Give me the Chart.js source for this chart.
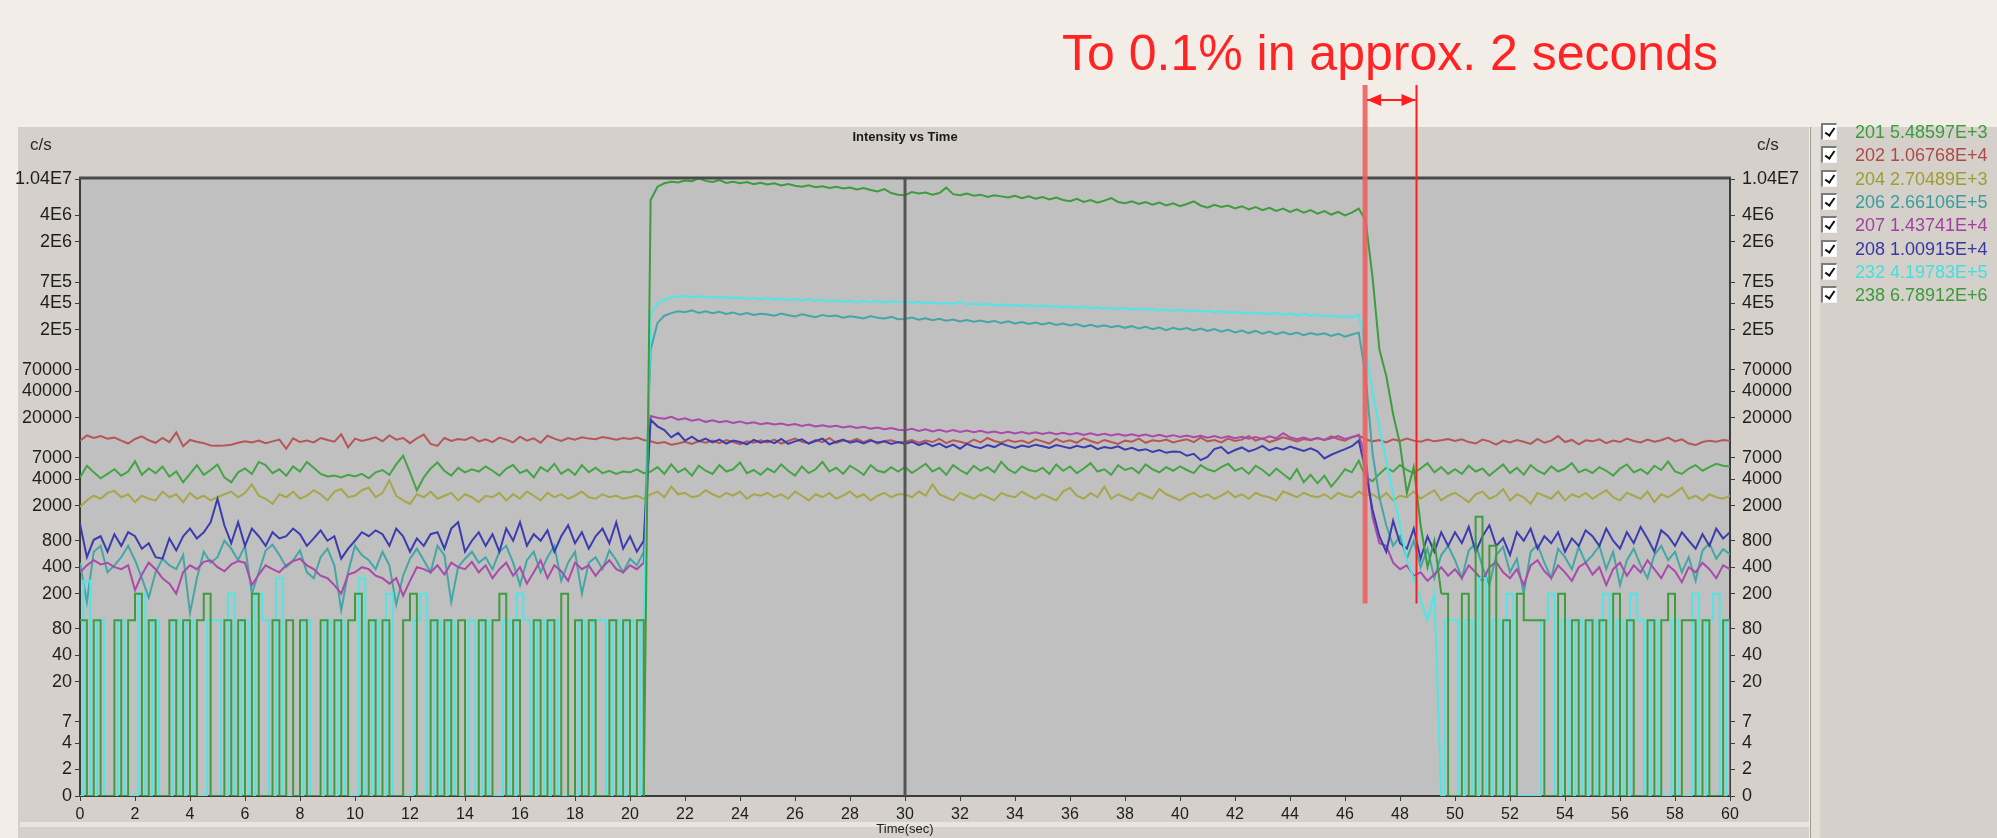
<!DOCTYPE html>
<html>
<head>
<meta charset="utf-8">
<title>Intensity vs Time</title>
<script src="https://cdn.jsdelivr.net/npm/chart.js@4.4.0/dist/chart.umd.min.js"></script>
<style>
  html, body { margin: 0; padding: 0; }
  body {
    width: 1997px; height: 838px; position: relative; overflow: hidden;
    background: #f3ede8; font-family: 'Liberation Sans', Arial, sans-serif;
  }
  #panel-grafico { position: absolute; left: 18px; top: 127px; width: 1791px; height: 711px; background: #d5d1ca; }
  #franja { position: absolute; left: 20px; top: 822px; width: 1789px; height: 5px; background: #e8e5df; }
  #panel-leyenda { position: absolute; left: 1810px; top: 127px; width: 187px; height: 711px; background: #d5d1ca;
    border-left: 1px solid #9d998f; }
  #tira-leyenda { position: absolute; left: 1811px; top: 127px; width: 9px; height: 711px; background: #e2dfd9; }
  #lienzo { position: absolute; left: 0; top: 0; }
  .unidad { position: absolute; top: 136px; font-size: 17px; color: #2a2a2a; line-height: 18px; }
  #nota { position: absolute; left: 1062px; top: 28px; font-size: 50px; line-height: 50px; color: #ff2424; white-space: nowrap; }
  #leyenda { position: absolute; left: 0; top: 0; }
  .fila { position: absolute; left: 1821px; height: 20px; line-height: 20px; white-space: nowrap; }
  .casilla { position: absolute; left: 0; top: 1px; width: 13px; height: 14px; background: #fff;
    border-top: 2px solid #7b7b7b; border-left: 2px solid #7b7b7b; border-bottom: 1px solid #f4f4f4; border-right: 1px solid #f4f4f4; }
  .casilla::after { content: ''; position: absolute; left: 4px; top: 1px; width: 4px; height: 8px;
    border-right: 2px solid #111; border-bottom: 2px solid #111; transform: rotate(35deg); }
  .txt { position: absolute; left: 34px; top: 0; font-size: 18px; }
</style>
</head>
<body>
<div id="panel-grafico"></div>
<div id="franja"></div>
<div id="panel-leyenda"></div>
<div id="tira-leyenda"></div>
<canvas id="lienzo" width="1997" height="838"></canvas>
<div class="unidad" style="left:30px">c/s</div>
<div class="unidad" style="left:1757px">c/s</div>
<div id="nota">To 0.1% in approx. 2 seconds</div>
<div id="leyenda"></div>
<script>
// Intensidad vs tiempo: lavado del nebulizador (escala logarítmica, c/s)
// Muestras cada 0,25 s de 0 a 60 s; cada fila = 5 s (20 muestras)
const PASO_S = 0.25;
const TIEMPO_CURSOR = 30;
const INICIO_LAVADO = 46.73;
const FIN_LAVADO = 48.6;
const NIVEL_PIE_MARCAS = 155;
// tramo con señal de muestra (línea continua para 232 y 238; fuera de él, escalones de cuentas)
const TRAMO_SENAL = [20.5, 49.5];

const etiquetasMasa = ['201', '202', '204', '206', '207', '208', '232', '238'];
const valoresCursor = ['5.48597E+3', '1.06768E+4', '2.70489E+3', '2.66106E+5', '1.43741E+4', '1.00915E+4', '4.19783E+5', '6.78912E+6'];

const valoresTicksY = [1, 2, 4, 7, 20, 40, 80, 200, 400, 800, 2000, 4000, 7000, 20000, 40000, 70000, 2e5, 4e5, 7e5, 2e6, 4e6, 1.04e7];
const etiquetasTicksY = ['0', '2', '4', '7', '20', '40', '80', '200', '400', '800', '2000', '4000', '7000', '20000', '40000', '70000', '2E5', '4E5', '7E5', '2E6', '4E6', '1.04E7'];

const intensidad201 = [
  4200, 5700, 4800, 4100, 4600, 5200, 4400, 4900, 6400, 4500, 5300, 4700, 5600, 4300, 4900, 3700, 4600, 5800, 4500, 5100,
  5900, 4200, 3700, 4800, 5300, 4600, 6300, 5800, 4700, 5200, 4400, 5600, 4900, 6300, 5400, 4600, 4300, 4400, 4200, 4500,
  4300, 4600, 4100, 4800, 5100, 4500, 5900, 7400, 4800, 3000, 4200, 5300, 6200, 5000, 4400, 5400, 4800, 5200, 4900, 5600,
  5000, 4400, 5300, 5800, 4700, 5100, 4200, 5500, 4900, 6000, 4600, 5200, 4500, 5800, 4800, 5400, 4700, 5000, 4600, 4900,
  4800, 5200, 4700, 4900, 5500, 4600, 5900, 4800, 5300, 4400, 5700, 5000, 4600, 5800, 4900, 5200, 6200, 4700, 5100, 4500,
  5300, 4800, 5900, 5000, 4400, 5600, 4700, 5200, 6300, 4900, 5400, 4600, 5700, 5100, 4500, 5800, 5000, 4800, 5500, 4900,
  5500, 4700, 5300, 6000, 4900, 5400, 4500, 5800, 5100, 4600, 5700, 5000, 5500, 4800, 6300, 5200, 4700, 5600, 5100, 4900,
  5400, 4600, 5900, 5000, 5600, 4700, 5300, 6100, 4900, 5200, 4500, 5800, 5100, 5400, 4700, 5900, 5200, 4800, 5500, 5000,
  5600, 5100, 4700, 5800, 5200, 4900, 5500, 6000, 5000, 5400, 4600, 5700, 5100, 4400, 5300, 4600, 4000, 5200, 3700, 4500,
  3600, 4400, 3300, 4100, 5200, 4800, 6500, 4200, 3800, 4600, 5400, 4900, 5800, 5100, 4700, 5300, 6100, 4800, 5500, 4600,
  5200, 4600, 5700, 4900, 5300, 4400, 5100, 5900, 4700, 5400, 4500, 5800, 5000, 4600, 5600, 4900, 5300, 6100, 4800, 5200,
  4700, 5500, 5000, 4400, 5300, 5900, 4800, 5200, 4600, 5700, 5100, 6400, 4900, 4600, 5300, 5800, 5000, 5500, 6000, 5700,
  5600
];

const intensidad202 = [
  11000, 12600, 11800, 12400, 11600, 11900, 11000, 10200, 11500, 12300, 11100, 10400, 11800, 10600, 13600, 9500, 11200, 10700, 10300, 9700,
  9600, 9700, 9900, 10400, 10800, 10500, 11000, 10300, 10800, 11300, 8900, 11700, 10600, 11000, 10500, 11800, 11200, 10700, 13000, 9200,
  11600, 10900, 11400, 12000, 10800, 12600, 11300, 11800, 10300, 11700, 12900, 10100, 9600, 11800, 10900, 11500, 11200, 12100, 10800, 11400,
  10600, 11900, 11300, 10500, 12200, 11000, 11700, 10400, 12500, 11600, 10900, 11800, 11300, 12000, 11600, 11400, 12100, 11700, 11300, 11800,
  11500, 11900, 11200, 10800, 10300, 10600, 9900, 10200, 10700, 10100, 10900, 10400, 11000, 10300, 11200, 10600, 10000, 10800, 10400, 11100,
  10500, 11300, 10200, 10900, 11600, 10700, 10300, 11200, 10600, 11800, 10400, 11000, 10800, 11500, 10600, 11300, 10200, 10900, 11100, 10500,
  10700, 11200, 10400, 11000, 10600, 11500, 10300, 11100, 10700, 10200, 11300, 10500, 11800, 10900, 10400, 11200, 10600, 11000, 10300, 11400,
  10800, 10200, 11500, 10600, 11100, 10400, 11700, 10900, 10300, 11200, 10600, 10100, 11000, 10700, 11600, 10400, 11100, 10800, 11300, 10500,
  11000, 11400, 10600, 11900, 10800, 11200, 10500, 11600, 10900, 11300, 12400, 11000, 11700, 10600, 11200, 12000, 11400, 10800, 11500, 11100,
  11800, 11200, 12300, 11500, 11000, 12100, 12600, 11400, 10800, 11200, 10500, 11400, 10900, 11600, 11000, 10700, 11300, 10800, 11100, 11500,
  10900, 11400, 10600, 10200, 11300, 10800, 9900, 11000, 10500, 11200, 10700, 10100, 11500, 10400, 11000, 12400, 10600, 11200, 10000, 11100,
  10800, 11400, 10300, 11000, 10600, 11600, 10900, 10500, 11300, 10700, 11100, 11900, 10800, 11400, 10200, 9800, 10600, 11000, 10700, 11200,
  11000
];

const intensidad204 = [
  1950, 2300, 2600, 2400, 2800, 2950, 2500, 2700, 2200, 2600, 2400, 2300, 2900, 2500, 2700, 2200, 2800, 2400, 2600, 2300,
  2500, 2700, 2900, 2500, 2800, 3500, 2600, 2400, 2100, 2700, 2500, 2900, 2400, 2600, 3000, 2700, 2300, 2900, 3100, 2500,
  2600, 3000, 3200, 2500, 2800, 3900, 2600, 2300, 2100, 2700, 2500, 2900, 2400, 2600, 2800, 2300, 2700, 2500, 2200, 2600,
  2500, 2800, 2300, 2700, 2400, 2900, 2600, 2300, 2800, 2500, 2700, 2400, 2600, 2900, 2500, 2400, 2700, 2500, 2600, 2400,
  2500, 2600, 2400, 2700, 2900, 2500, 3300, 2700, 2800, 2500, 2600, 3000, 2700, 2500, 2800, 2600, 2900, 2400, 2700, 2600,
  2800, 2500, 2700, 2400, 2900, 2600, 2300, 2700, 2500, 2800, 2400, 2600, 2900, 2500, 2700, 2300, 2600, 2800, 2500, 2700,
  2700, 2500, 2900, 2600, 3500, 2700, 2500, 2300, 2800, 2600, 2400, 2700, 2500, 2300, 2800, 2600, 2500, 2900, 2600, 2400,
  2700, 2500, 2300, 2900, 3200, 2600, 2400, 2800, 2500, 3300, 2400, 2700, 2500, 2300, 2800, 2600, 2400, 3100, 2700, 2500,
  2300, 2600, 2800, 2500, 2700, 2400, 2600, 2900, 2500, 2700, 2400, 2800, 2600, 2500, 2300, 2900, 2700, 2500, 2800, 2600,
  2500, 2700, 2400, 2800, 2600, 2500, 2900, 2600, 2700, 2400, 2800, 2300, 2600, 2500, 2900, 2400, 2700, 3000, 2300, 2600,
  2800, 2500, 2200, 2700, 2900, 2400, 2600, 3100, 2300, 2700, 2500, 2100, 2800, 2600, 2400, 2900, 2300, 2700, 2500, 2800,
  2400, 2700, 3000, 2500, 2300, 2800, 2600, 2400, 2900, 2200, 2700, 2500, 2800, 3200, 2400, 2600, 2300, 2700, 2500, 2400,
  2600
];

const intensidad206 = [
  450, 160, 600, 700, 350, 420, 520, 700, 480, 300, 180, 350, 500, 420, 380, 550, 120, 300, 600, 450,
  520, 800, 650, 480, 700, 200, 350, 620, 720, 550, 400, 480, 620, 350, 300, 520, 650, 420, 130, 350,
  700, 550, 480, 380, 600, 420, 150, 320, 500, 650, 480, 350, 700, 550, 160, 400, 500, 600, 450, 520,
  380, 600, 700, 450, 250, 480, 600, 350, 520, 700, 280, 450, 600, 200, 450, 520, 380, 620, 480, 350,
  500, 420, 600, 120000, 240000, 290000, 310000, 325000, 318000, 334000, 312000, 326000, 309000, 321000, 303000, 316000, 298000, 311000, 295000, 305000,
  300000, 290000, 306000, 294000, 285000, 301000, 290000, 279000, 296000, 285000, 291000, 275000, 286000, 279000, 270000, 287000, 274000, 270000, 281000, 264000,
  266000, 276000, 261000, 271000, 257000, 268000, 254000, 263000, 250000, 259000, 247000, 256000, 244000, 253000, 239000, 250000, 237000, 246000, 234000, 243000,
  231000, 241000, 227000, 236000, 224000, 233000, 219000, 229000, 217000, 226000, 214000, 223000, 211000, 221000, 207000, 217000, 204000, 213000, 199000, 211000,
  202000, 210000, 197000, 207000, 194000, 204000, 191000, 201000, 187000, 197000, 184000, 195000, 181000, 191000, 179000, 189000, 177000, 187000, 174000, 184000,
  176000, 183000, 171000, 181000, 167000, 177000, 186000, 60000, 8000, 2500, 1200, 700, 900, 500, 800, 400, 650, 300, 550, 700,
  480, 300, 620, 750, 400, 250, 550, 680, 350, 500, 200, 600, 720, 450, 300, 650, 520, 380, 680, 450,
  550, 700, 380, 600, 250, 480, 650, 420, 300, 550, 700, 480, 600, 350, 520, 280, 620, 750, 500, 640,
  560
];

const intensidad207 = [
  350, 420, 480, 430, 450, 400, 380, 420, 220, 330, 450, 380, 300, 260, 200, 350, 420, 380, 460, 480,
  400, 360, 430, 470, 450, 250, 330, 420, 380, 350, 420, 470, 500, 420, 380, 320, 300, 250, 200, 330,
  350, 400, 380, 320, 300, 260, 300, 190, 280, 400, 380, 350, 420, 330, 450, 400, 380, 460, 350, 420,
  300, 380, 450, 320, 400, 260, 350, 480, 300, 420, 360, 280, 450, 380, 420, 320, 400, 480, 380, 350,
  420, 380, 450, 21000, 20000, 19500, 20500, 19000, 19800, 18500, 19200, 18000, 18800, 17800, 18400, 17500, 18200, 17200, 17800, 16900,
  17500, 16800, 17200, 16500, 17000, 16200, 16800, 15900, 16500, 15800, 16200, 15500, 16000, 15300, 15800, 15000, 15500, 14800, 15300, 14600,
  14400, 15000, 14200, 14800, 14000, 14600, 13900, 14500, 13800, 14300, 13700, 14200, 13500, 14000, 13400, 13900, 13300, 13800, 13200, 13700,
  13100, 13600, 13000, 13500, 12900, 13400, 12800, 13300, 12700, 13200, 12600, 13100, 12500, 13000, 12400, 12900, 12300, 12800, 12200, 12700,
  12100, 12600, 12000, 12500, 11900, 12400, 11800, 12300, 11700, 12200, 11600, 12100, 11500, 12300, 11700, 13400, 12000, 11400, 11900, 11300,
  11800, 11200, 11700, 12400, 11500, 12000, 12800, 7000, 1500, 750, 700, 450, 380, 420, 320, 350, 280, 330, 400, 320,
  380, 300, 420, 350, 280, 400, 460, 350, 300, 380, 250, 420, 480, 360, 300, 420, 350, 280, 400, 450,
  330, 400, 250, 380, 450, 320, 420, 350, 480, 380, 300, 420, 360, 270, 400, 350, 450, 380, 300, 420,
  380
];

const intensidad208 = [
  1250, 520, 820, 900, 600, 950, 700, 1000, 900, 650, 750, 520, 500, 850, 620, 900, 1100, 850, 1000, 1300,
  2400, 1200, 750, 1300, 700, 1100, 900, 700, 1000, 850, 900, 1100, 950, 700, 850, 1050, 800, 900, 500, 650,
  800, 1000, 900, 1050, 950, 700, 1100, 900, 600, 850, 700, 950, 1000, 650, 1100, 1300, 600, 800, 1000, 700,
  950, 600, 1100, 800, 1300, 700, 950, 800, 1050, 600, 900, 1200, 750, 1000, 650, 900, 1100, 750, 1300, 650,
  900, 600, 800, 19000, 16000, 14500, 12000, 13500, 11000, 12200, 10800, 11600, 10500, 11300, 10200, 11000, 10600, 10000, 11200, 10400,
  11000, 10300, 11500, 10100, 10800, 11400, 10200, 10900, 11600, 10000, 10700, 11300, 10400, 10900, 10200, 11000, 10500, 10800, 10100, 10600,
  10100, 10700, 9800, 10400, 9500, 10200, 9200, 9900, 8900, 10100, 9400, 9000, 9800, 9300, 10200, 9600, 9100, 9700, 9300, 9900,
  9500, 9100, 9800, 9400, 9000, 9600, 9200, 9700, 8800, 9300, 9000, 9500, 8700, 9100, 8500, 8800, 8200, 8600, 8000, 8300,
  8200, 7400, 7800, 6600, 7200, 8800, 9300, 7900, 8600, 9200, 8300, 8800, 9600, 8500, 9100, 8700, 9400, 8900, 8400, 9000,
  8300, 6900, 7600, 8200, 8800, 9500, 11000, 5000, 1800, 900, 600, 1350, 750, 650, 1100, 500, 900, 600, 1000, 700,
  1000, 750, 1150, 600, 900, 1200, 700, 850, 550, 1000, 800, 1100, 650, 900, 750, 1000, 600, 850, 700, 1050,
  900, 700, 1100, 800, 650, 1000, 750, 1150, 850, 600, 1050, 900, 700, 1000, 800, 650, 950, 700, 1100, 850,
  1000
];

const intensidad232 = [
  0, 280, 0, 100, 0, 0, 100, 0, 0, 200, 0, 100, 0, 0, 100, 0, 100, 0, 0, 100,
  100, 0, 200, 0, 100, 0, 200, 100, 0, 300, 0, 0, 0, 100, 0, 0, 100, 0, 100, 0,
  0, 300, 0, 100, 0, 200, 0, 0, 0, 100, 200, 0, 100, 0, 100, 0, 0, 100, 0, 100,
  0, 0, 100, 0, 200, 100, 0, 100, 0, 100, 0, 0, 0, 100, 0, 100, 100, 0, 100, 0,
  100, 0, 100, 300000, 400000, 440000, 470000, 480000, 490000, 470000, 485000, 465000, 480000, 460000, 475000, 455000, 470000, 450000, 465000, 445000,
  460000, 440000, 455000, 435000, 450000, 430000, 445000, 425000, 440000, 420000, 435000, 415000, 430000, 410000, 428000, 412000, 425000, 408000, 422000, 415000,
  420000, 405000, 418000, 400000, 412000, 396000, 408000, 392000, 420000, 388000, 400000, 384000, 396000, 380000, 392000, 376000, 388000, 372000, 384000, 368000,
  380000, 364000, 376000, 360000, 372000, 356000, 368000, 352000, 364000, 348000, 360000, 344000, 356000, 340000, 352000, 336000, 348000, 332000, 344000, 328000,
  340000, 324000, 336000, 320000, 332000, 316000, 328000, 312000, 324000, 308000, 320000, 304000, 316000, 300000, 312000, 296000, 308000, 292000, 304000, 288000,
  298000, 284000, 292000, 280000, 288000, 276000, 300000, 120000, 40000, 15500, 6500, 2750, 1200, 480, 300, 170, 100, 200, 0, 100,
  100, 0, 100, 0, 300, 0, 100, 0, 200, 0, 0, 0, 0, 100, 200, 0, 100, 0, 100, 0,
  100, 0, 200, 0, 100, 0, 200, 100, 0, 100, 0, 0, 100, 0, 0, 200, 0, 100, 200, 0,
  100
];

const intensidad238 = [
  100, 0, 100, 0, 0, 100, 0, 100, 200, 0, 100, 0, 0, 100, 0, 100, 0, 100, 200, 0,
  0, 100, 0, 100, 0, 200, 0, 0, 100, 0, 100, 0, 100, 0, 0, 100, 0, 100, 0, 100,
  200, 0, 100, 0, 100, 0, 0, 100, 200, 0, 0, 100, 0, 100, 0, 100, 0, 0, 100, 0,
  100, 200, 0, 100, 0, 0, 100, 0, 100, 0, 200, 0, 100, 0, 100, 0, 0, 100, 0, 100,
  0, 100, 0, 6000000, 8500000, 9300000, 9700000, 9500000, 10000000, 9800000, 10600000, 9900000, 9600000, 10100000, 9400000, 9700000, 9300000, 9600000, 9100000, 9400000,
  9000000, 9300000, 8800000, 9100000, 8700000, 8500000, 8800000, 8400000, 8600000, 8200000, 8500000, 8100000, 8300000, 7900000, 8200000, 7800000, 7500000, 8000000, 7200000, 6900000,
  6800000, 7400000, 7100000, 7300000, 6900000, 7200000, 8300000, 7000000, 6800000, 7100000, 6700000, 6900000, 6500000, 6800000, 6600000, 6400000, 6700000, 6300000, 6600000, 6200000,
  6500000, 6100000, 6400000, 6000000, 5800000, 6200000, 5700000, 6000000, 5600000, 5900000, 6300000, 5700000, 5500000, 5800000, 5400000, 5700000, 5300000, 5600000, 5200000, 5500000,
  5100000, 5400000, 5800000, 5200000, 4900000, 5300000, 5000000, 5200000, 4800000, 5100000, 4700000, 5000000, 4600000, 4900000, 4500000, 4800000, 4400000, 4700000, 4300000, 4600000,
  4200000, 4500000, 4100000, 4400000, 4000000, 4300000, 4800000, 3500000, 800000, 120000, 60000, 22000, 10000, 2800, 5500, 1200, 400, 800, 200, 0,
  0, 200, 0, 1500, 0, 700, 0, 100, 0, 200, 100, 100, 100, 0, 0, 200, 0, 100, 0, 100,
  0, 100, 0, 200, 0, 100, 0, 0, 100, 0, 100, 200, 0, 100, 100, 0, 100, 0, 0, 100,
  0
];

const datosSeries = [intensidad201, intensidad202, intensidad204, intensidad206, intensidad207, intensidad208, intensidad232, intensidad238];
const coloresSeries = ['#45a445', '#b65656', '#a6a64a', '#45a6a6', '#aa4aaa', '#3c3cae', '#4ee6e6', '#3e9c3e'];
const coloresLeyenda = ['#3a9c3a', '#b04848', '#9c9c34', '#3a9c9c', '#a040a0', '#3838a0', '#40e0e0', '#3a9a3a'];
// capa de dibujo (número menor = encima)
const capaSerie = [8, 7, 6, 5, 4, 3, 2, 1];
// series de cuentas bajas dibujadas en escalón fuera del tramo con señal
const modoEscalon = { '232': 'middle', '238': 'before' };

const familia = "'Liberation Sans', Arial, sans-serif";

// Leyenda con casillas (como en el software de origen)
const leyenda = document.getElementById('leyenda');
for (let i = 0; i < etiquetasMasa.length; i++) {
  const fila = document.createElement('div');
  fila.className = 'fila';
  fila.style.top = (122 + i * 23.3) + 'px';
  fila.innerHTML = `<span class="casilla"></span><span class="txt" style="color:${coloresLeyenda[i]}">${etiquetasMasa[i]} ${valoresCursor[i]}</span>`;
  leyenda.appendChild(fila);
}

// Fondo gris del área de trazado
const fondoArea = {
  id: 'fondoArea',
  beforeDraw(chart) {
    const { ctx, chartArea: a } = chart;
    ctx.save();
    ctx.fillStyle = '#c0c0c0';
    ctx.fillRect(a.left, a.top, a.right - a.left, a.bottom - a.top);
    ctx.restore();
  }
};

// Cursor vertical, marco superior y anotación en rojo
const marcas = {
  id: 'marcas',
  afterDraw(chart) {
    const { ctx, chartArea: a, scales } = chart;
    ctx.save();
    // cursor en t = 30 s
    const xc = scales.x.getPixelForValue(TIEMPO_CURSOR);
    ctx.strokeStyle = '#555555';
    ctx.lineWidth = 3;
    ctx.beginPath();
    ctx.moveTo(xc, a.top);
    ctx.lineTo(xc, a.bottom);
    ctx.stroke();

    // borde superior del área
    ctx.strokeStyle = '#4a4a4a';
    ctx.lineWidth = 3;
    ctx.beginPath();
    ctx.moveTo(a.left - 1, a.top - 1);
    ctx.lineTo(a.right + 1, a.top - 1);
    ctx.stroke();

    // líneas de lavado
    const x1 = scales.x.getPixelForValue(INICIO_LAVADO);
    const x2 = scales.x.getPixelForValue(FIN_LAVADO);
    const yPie = scales.y.getPixelForValue(NIVEL_PIE_MARCAS);
    const yTope = 85;
    ctx.strokeStyle = 'rgba(236, 96, 96, 0.9)';
    ctx.lineWidth = 5;
    ctx.beginPath();
    ctx.moveTo(x1, yTope);
    ctx.lineTo(x1, yPie);
    ctx.stroke();
    ctx.strokeStyle = '#ff1e1e';
    ctx.lineWidth = 2;
    ctx.beginPath();
    ctx.moveTo(x2, yTope);
    ctx.lineTo(x2, yPie);
    ctx.stroke();

    // flecha doble
    const yFlecha = 100;
    ctx.fillStyle = '#ff1e1e';
    ctx.beginPath();
    ctx.moveTo(x1 + 2, yFlecha);
    ctx.lineTo(x2 - 1, yFlecha);
    ctx.stroke();
    ctx.beginPath();
    ctx.moveTo(x1 + 2, yFlecha);
    ctx.lineTo(x1 + 16, yFlecha - 6);
    ctx.lineTo(x1 + 16, yFlecha + 6);
    ctx.closePath();
    ctx.fill();
    ctx.beginPath();
    ctx.moveTo(x2 - 1, yFlecha);
    ctx.lineTo(x2 - 15, yFlecha - 6);
    ctx.lineTo(x2 - 15, yFlecha + 6);
    ctx.closePath();
    ctx.fill();
    ctx.restore();
  }
};

function escalaLog(posicion, ancho, relleno) {
  return {
    type: 'logarithmic',
    position: posicion,
    min: 1,
    max: 1.04e7,
    afterFit: (s) => { s.width = ancho; },
    afterBuildTicks: (s) => { s.ticks = valoresTicksY.map(v => ({ value: v })); },
    ticks: {
      autoSkip: false,
      padding: relleno,
      color: '#1e1e1e',
      font: { family: familia, size: 18 },
      callback: (valor) => {
        const idx = valoresTicksY.indexOf(valor);
        return idx >= 0 ? etiquetasTicksY[idx] : '';
      }
    },
    grid: { drawOnChartArea: false, tickLength: 5, color: '#3c3c3c' },
    border: { color: '#3c3c3c', width: 2 }
  };
}

const datasets = [];
for (let i = 0; i < datosSeries.length; i++) {
  const puntos = datosSeries[i].map((v, k) => ({ x: k * PASO_S, y: v > 0 ? v : 1 }));
  const base = {
    label: etiquetasMasa[i],
    borderColor: coloresSeries[i],
    borderWidth: 2,
    pointRadius: 0,
    tension: 0,
    order: capaSerie[i]
  };
  const escalon = modoEscalon[etiquetasMasa[i]];
  if (escalon) {
    // fondo de cuentas: escalones; tramo con señal: línea normal
    datasets.push({
      ...base,
      stepped: escalon,
      data: puntos.map(p => (p.x <= TRAMO_SENAL[0] || p.x >= TRAMO_SENAL[1]) ? p : { x: p.x, y: null })
    });
    datasets.push({
      ...base,
      data: puntos.map(p => (p.x >= TRAMO_SENAL[0] && p.x <= TRAMO_SENAL[1]) ? p : { x: p.x, y: null })
    });
  } else {
    datasets.push({ ...base, data: puntos });
  }
}

new Chart(document.getElementById('lienzo'), {
  type: 'line',
  data: { datasets },
  options: {
    responsive: false,
    maintainAspectRatio: false,
    animation: false,
    events: [],
    layout: { padding: { top: 127, left: 0, right: 0, bottom: 0 } },
    plugins: {
      legend: { display: false },
      tooltip: { enabled: false },
      title: {
        display: true,
        text: 'Intensity vs Time',
        fullSize: false,
        color: '#1a1a1a',
        font: { family: familia, size: 13, weight: 'bold' },
        padding: { top: 3, bottom: 33.4 }
      }
    },
    scales: {
      x: {
        type: 'linear',
        position: 'bottom',
        min: 0,
        max: 60,
        afterFit: (s) => { s.height = 42; },
        ticks: { stepSize: 2, autoSkip: false, maxRotation: 0, padding: 4, color: '#1e1e1e', font: { family: familia, size: 16 } },
        grid: { drawOnChartArea: false, tickLength: 5, color: '#3c3c3c' },
        border: { color: '#3c3c3c', width: 2 },
        title: { display: true, text: 'Time(sec)', color: '#1e1e1e', font: { family: familia, size: 13 }, padding: { top: 0, bottom: 1 } }
      },
      y: escalaLog('left', 80, 3),
      y2: escalaLog('right', 267, 7)
    }
  },
  plugins: [fondoArea, marcas]
});
</script>
</body>
</html>
